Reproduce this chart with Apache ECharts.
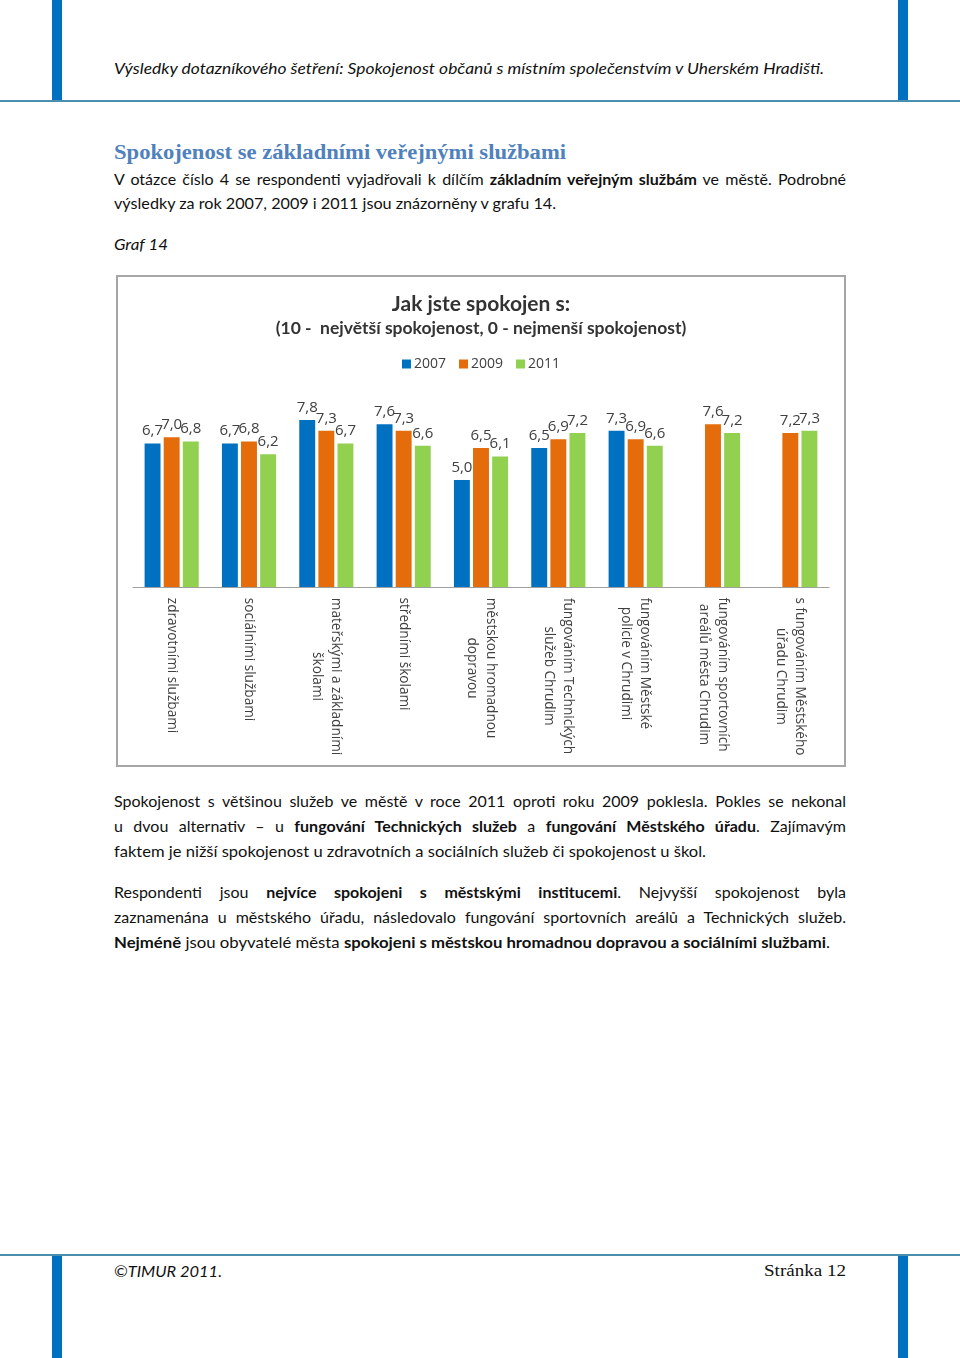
<!DOCTYPE html>
<html lang="cs">
<head>
<meta charset="utf-8">
<title>Graf 14</title>
<script src="https://cdn.jsdelivr.net/npm/echarts@6/dist/echarts.min.js"></script>
<style>
  html, body { margin: 0; padding: 0; background: #fff; }
  body { width: 960px; height: 1358px; position: relative; overflow: hidden; font-family: Lato, "Noto Sans", sans-serif; color: #111; }
  .vbar { position: absolute; width: 10px; background: #0070C0; }
  .hline { position: absolute; left: 0; width: 960px; height: 2px; background: #4A8FB0; }
  .ln { position: absolute; left: 114px; white-space: nowrap; line-height: 20px; font-size: 16px; }
  .ln > span { display: inline-block; transform-origin: 0 50%; white-space: nowrap; }
  .it { font-style: italic; }
  .hd { font-family: "Liberation Serif", "DejaVu Serif", serif; font-weight: bold; font-size: 21px; color: #4F81BD; line-height: 26px; }
  #box { position: absolute; left: 116px; top: 275px; width: 730px; height: 492px; box-sizing: border-box; border: 2px solid #a6a6a6; }
  #chart { width: 100%; height: 100%; }
</style>
</head>
<body>
<div class="vbar" style="left:52px;top:0;height:101px"></div>
<div class="vbar" style="left:898px;top:0;height:101px"></div>
<div class="hline" style="top:100px"></div>

<div class="ln it" style="top:58px" data-w="710"><span>Výsledky dotazníkového šetření: Spokojenost občanů s místním společenstvím v Uherském Hradišti.</span></div>

<div class="ln hd" style="top:139px" data-w="452"><span>Spokojenost se základními veřejnými službami</span></div>
<div class="ln" style="top:169px" data-w="732" data-j="1"><span>V otázce číslo 4 se respondenti vyjadřovali k dílčím <b>základním veřejným službám</b> ve městě. Podrobné</span></div>
<div class="ln" style="top:193px" data-w="442"><span>výsledky za rok 2007, 2009 i 2011 jsou znázorněny v grafu 14.</span></div>
<div class="ln it" style="top:234px" data-w="54"><span>Graf 14</span></div>

<div id="box"><div id="chart"></div></div>

<div class="ln" style="top:791px" data-w="732" data-j="1"><span>Spokojenost s většinou služeb ve městě v roce 2011 oproti roku 2009 poklesla. Pokles se nekonal</span></div>
<div class="ln" style="top:816px" data-w="732" data-j="1"><span>u dvou alternativ – u <b>fungování Technických služeb</b> a <b>fungování Městského úřadu</b>. Zajímavým</span></div>
<div class="ln" style="top:841px" data-w="592"><span>faktem je nižší spokojenost u zdravotních a sociálních služeb či spokojenost u škol.</span></div>

<div class="ln" style="top:882px" data-w="732" data-j="1"><span>Respondenti jsou <b>nejvíce spokojeni s&nbsp;městskými institucemi</b>. Nejvyšší spokojenost byla</span></div>
<div class="ln" style="top:907px" data-w="732" data-j="1"><span>zaznamenána u městského úřadu, následovalo fungování sportovních areálů a Technických služeb.</span></div>
<div class="ln" style="top:932px" data-w="716"><span><b>Nejméně</b> jsou obyvatelé města <b>spokojeni s městskou hromadnou dopravou a sociálními službami</b>.</span></div>

<div class="hline" style="top:1254px"></div>
<div class="vbar" style="left:52px;top:1256px;height:102px"></div>
<div class="vbar" style="left:898px;top:1256px;height:102px"></div>
<div class="ln it" style="top:1261px" data-w="108"><span>©TIMUR 2011.</span></div>
<div class="ln" style="top:1261px;left:764px;font-family:'Liberation Serif','DejaVu Serif',serif;font-size:17px" data-w="82"><span>Stránka 12</span></div>

<script>
// ---- data ----
const categories = [
  'zdravotními službami',
  'sociálními službami',
  'mateřskými a základními\nškolami',
  'středními školami',
  'městskou hromadnou\ndopravou',
  'fungováním Technických\nslužeb Chrudim',
  'fungováním Městské\npolicie v Chrudimi',
  'fungováním sportovních\nareálů města Chrudim',
  's fungováním Městského\núřadu Chrudim'
];
const seriesNames = ['2007', '2009', '2011'];
const values2007 = [6.7, 6.7, 7.8, 7.6, 5.0, 6.5, 7.3, null, null];
const values2009 = [7.0, 6.8, 7.3, 7.3, 6.5, 6.9, 6.9, 7.6, 7.2];
const values2011 = [6.8, 6.2, 6.7, 6.6, 6.1, 7.2, 6.6, 7.2, 7.3];
const colors = ['#0070C0', '#E46C0A', '#92D050'];
const chartTitle = 'Jak jste spokojen s:';
const chartSubtitle = '(10 -  největší spokojenost, 0 - nejmenší spokojenost)';

// ---- text line fitting ----
document.querySelectorAll('.ln').forEach(el => {
  const w = +el.dataset.w;
  const span = el.firstElementChild;
  const nat = span.getBoundingClientRect().width;
  if (el.dataset.j && nat <= w) {
    el.style.width = w + 'px';
    el.style.whiteSpace = 'normal';
    el.style.textAlign = 'justify';
    el.style.textAlignLast = 'justify';
    span.style.display = 'inline';
    span.style.whiteSpace = 'normal';
  } else {
    span.style.transform = 'scaleX(' + (w / nat) + ')';
  }
});

// ---- chart ----
const catFontSize = 13.6;
const canvas = document.createElement('canvas');
const ctx = canvas.getContext('2d');
ctx.font = catFontSize + 'px "Open Sans"';
const rich = {};
categories.forEach((c, i) => {
  const lines = c.split('\n');
  const w = Math.max(...lines.map(l => ctx.measureText(l).width));
  rich['c' + i] = { width: Math.ceil(w) + 1, align: 'center', fontSize: catFontSize, fontFamily: 'Open Sans', color: '#404040', lineHeight: 19 };
});

const fmt = v => (v == null ? '' : v.toFixed(1).replace('.', ','));
const allValues = [values2007, values2009, values2011];

const chart = echarts.init(document.getElementById('chart'), null, { renderer: 'canvas' });
chart.setOption({
  animation: false,
  backgroundColor: '#fff',
  title: [
    { text: chartTitle, left: 'center', top: 12,
      textStyle: { fontFamily: 'Lato', fontSize: 21, fontWeight: 'bold', color: '#333' } },
    { text: chartSubtitle, left: 'center', top: 37,
      textStyle: { fontFamily: 'Lato', fontSize: 17.5, fontWeight: 'bold', color: '#333' } }
  ],
  legend: {
    data: seriesNames, top: 75, left: 'center', itemWidth: 9, itemHeight: 9, itemGap: 13,
    icon: 'rect',
    textStyle: { fontFamily: 'Open Sans', fontSize: 14, color: '#404040', padding: [0, 0, 0, -2] }
  },
  grid: { left: 15, right: 15, top: 96, bottom: 178, containLabel: false },
  xAxis: {
    type: 'category', data: categories,
    axisLine: { lineStyle: { color: '#a0a0a0', width: 1 } },
    axisTick: { show: false },
    axisLabel: {
      interval: 0, rotate: -90, margin: 10,
      formatter: (v, i) => v.split('\n').map(l => '{c' + i + '|' + l + '}').join('\n'),
      rich: rich
    }
  },
  yAxis: { type: 'value', min: 0, max: 10, show: false, splitLine: { show: false } },
  series: seriesNames.map((n, k) => ({
    name: n, type: 'bar', data: allValues[k],
    barGap: '20%', barCategoryGap: '30%',
    itemStyle: { color: colors[k] },
    label: {
      show: true, position: 'top', distance: 5,
      fontFamily: 'Open Sans', fontSize: 15, color: '#404040',
      formatter: p => fmt(p.value)
    }
  }))
});
</script>
</body>
</html>
